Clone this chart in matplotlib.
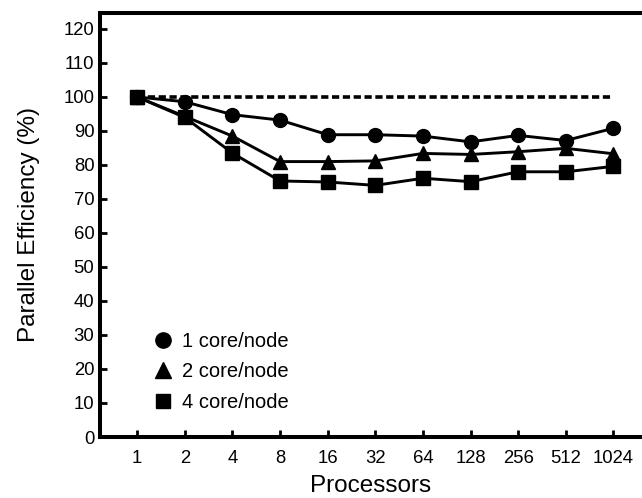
import matplotlib
matplotlib.use("Agg")
import matplotlib.pyplot as plt

procs = ["1", "2", "4", "8", "16", "32", "64", "128", "256", "512", "1024"]
eff_1core = [100, 98.6, 94.8, 93.2, 88.9, 88.9, 88.5, 86.8, 88.7, 87.2, 90.8]
eff_2core = [100, 94.3, 88.5, 81.0, 81.0, 81.2, 83.4, 83.1, 83.9, 84.9, 83.3]
eff_4core = [100, 94.0, 83.5, 75.3, 75.0, 74.0, 76.1, 75.1, 78.0, 78.0, 79.6]
ideal = [100] * len(procs)

plt.rcParams.update({
    "font.family": ["Liberation Sans", "DejaVu Sans"],
    "font.size": 13,
})

fig = plt.figure(figsize=(6.42, 4.98), dpi=100)
ax = fig.add_axes([100 / 642, (498 - 437) / 498, 1 - 100 / 642, (437 - 13) / 498])

x = list(range(len(procs)))
ax.plot(x, ideal, color="black", lw=2.6, ls=(0, (2.0, 1.0)), zorder=1)
series = [
    (eff_1core, "o", 10, "1 core/node"),
    (eff_2core, "^", 10, "2 core/node"),
    (eff_4core, "s", 9.5, "4 core/node"),
]
for y, mk, ms, lab in series:
    ax.plot(x, y, color="black", lw=2.1, marker=mk, markersize=ms, zorder=2)
    ax.plot([], [], ls="none", color="black", marker=mk, markersize=ms + 1, label=lab)

ax.set_xlim(-0.78, 10.6)
ax.set_ylim(0, 124.7)
ax.set_xticks(x)
ax.set_xticklabels(procs)
ax.set_yticks(range(0, 121, 10))
ax.tick_params(direction="in", length=5, width=2, labelsize=13.3)
ax.tick_params(axis="x", pad=9)
ax.tick_params(axis="y", pad=4)

for side in ["left", "bottom", "top"]:
    ax.spines[side].set_linewidth(2.9)
ax.spines["right"].set_visible(False)

ax.set_xlabel("Processors", fontsize=17.5, labelpad=6)
ax.set_ylabel("Parallel Efficiency (%)", fontsize=17.5, labelpad=17)

ax.legend(loc="lower left", bbox_to_anchor=(0.1, 0.06), frameon=False,
          fontsize=14.5, handlelength=0.9, handletextpad=0.5, labelspacing=0.57,
          borderpad=0, borderaxespad=0)

fig.savefig("out.png", dpi=100)
